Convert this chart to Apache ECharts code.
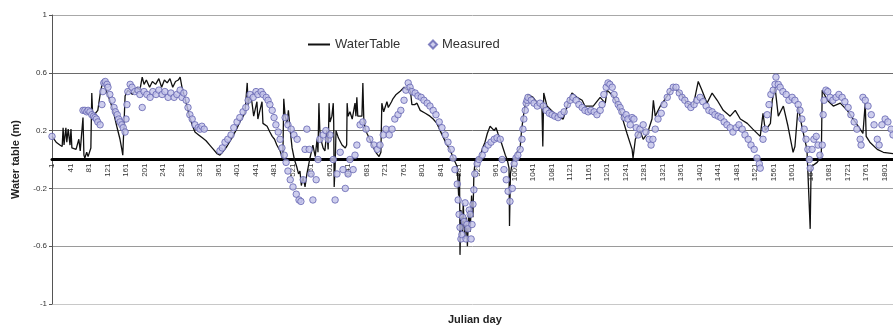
<!DOCTYPE html>
<html><head><meta charset="utf-8">
<script src="https://cdn.jsdelivr.net/npm/echarts@6/dist/echarts.min.js"></script>
<style>html,body{margin:0;padding:0;background:#fff}#c{width:893px;height:329px}</style>
</head><body><div id="c"></div>
<script>
// Julian day, water table (m)
const waterTable1 = [[1,0.16],[10,0.12],[18,0.10],[23,0.09],[25,0.22],[27,0.10],[31,0.22],[33,0.12],[36,0.21],[40,0.10],[42,0.21],[44,0.08],[53,0.07],[57,0.08],[59,0.14],[62,0.06],[66,0.05],[68,0.29],[70,0.03],[72,0.01],[76,0.05],[79,0.02],[85,0.08],[87,0.46],[89,0.30],[95,0.32],[100,0.34],[105,0.45],[111,0.55],[118,0.48],[126,0.41],[133,0.34],[141,0.23],[148,0.14],[152,0.07],[154,0.03],[157,0.02],[159,0.44],[165,0.48],[175,0.45],[185,0.50],[191,0.48],[196,0.57],[200,0.52],[205,0.55],[212,0.50],[218,0.54],[225,0.52],[232,0.56],[238,0.50],[244,0.55],[250,0.53],[256,0.56],[262,0.50],[268,0.54],[274,0.55],[278,0.57],[282,0.50],[286,0.45],[292,0.38],[298,0.30],[304,0.24],[310,0.19],[318,0.17],[326,0.15],[334,0.13],[342,0.10],[350,0.07],[358,0.04],[364,0.03]];
const waterTable2 = [[372,0.06],[379,0.09],[390,0.15],[400,0.21],[407,0.26],[418,0.32],[422,0.33],[423,0.53],[425,0.38],[429,0.44],[433,0.40],[437,0.30],[444,0.40],[446,0.28],[455,0.40],[457,0.25],[466,0.23],[472,0.19],[477,0.16],[482,0.14],[487,0.10],[494,0.06],[500,0.00],[502,0.42],[505,0.30],[509,0.25],[512,0.34],[516,0.20],[520,0.08],[525,0.00],[530,-0.05],[534,-0.10],[537,-0.08],[540,-0.18],[544,-0.12],[548,-0.19],[552,-0.10],[558,0.00],[565,0.10],[570,0.02],[574,0.14],[576,0.05],[578,0.39],[580,0.20],[583,0.13],[587,0.08],[591,0.06],[595,0.20],[598,0.07],[600,0.39],[602,0.26],[606,0.30],[609,0.39],[610,0.25],[611,-0.19],[613,-0.05],[615,0.20],[620,0.15],[628,0.10],[635,0.08],[638,0.10],[639,0.39],[641,0.30],[645,0.33],[650,0.28],[656,0.39],[658,0.30],[660,0.43],[662,0.30],[665,0.30],[671,0.30],[673,0.53],[675,0.28],[678,0.21],[682,0.18],[688,0.14],[693,0.10],[701,0.05],[708,0.02],[712,0.05],[714,0.39],[718,0.33],[721,0.32],[725,0.40],[728,0.36]];
const waterTable3 = [[732,0.35],[735,0.40],[738,0.42],[745,0.45],[753,0.47],[762,0.50],[769,0.48],[775,0.50],[779,0.38],[785,0.38],[790,0.39],[797,0.34],[808,0.32],[818,0.30],[825,0.28],[833,0.25],[840,0.20],[846,0.16],[853,0.11],[861,0.07],[870,0.00],[877,-0.05],[880,-0.25],[882,-0.10],[883,-0.66],[885,-0.35],[888,-0.50],[890,-0.30],[893,-0.55],[896,-0.40],[899,-0.60],[902,-0.35],[905,-0.50],[908,-0.25],[911,-0.40],[913,-0.10],[916,0.00],[920,0.00],[926,0.02],[932,0.08],[937,0.12],[942,0.18],[948,0.23],[952,0.23],[957,0.20],[961,0.22],[965,0.18],[970,0.14],[976,0.08],[981,0.03],[985,0.00],[989,-0.06],[990,-0.46],[992,-0.10],[996,-0.02],[1000,0.00],[1006,0.05],[1013,0.08],[1016,0.20],[1020,0.30],[1024,0.38],[1030,0.45],[1041,0.43],[1050,0.39],[1060,0.37],[1062,0.09],[1064,0.46],[1071,0.37],[1093,0.30]];
const waterTable4 = [[1106,0.28],[1115,0.37],[1125,0.46],[1136,0.43],[1147,0.41],[1153,0.37],[1171,0.37],[1186,0.43],[1197,0.39],[1201,0.48],[1214,0.44],[1229,0.34],[1244,0.18],[1255,0.07],[1257,0.01],[1262,0.14],[1272,0.20],[1279,0.14],[1288,0.18],[1298,0.28],[1301,0.41],[1305,0.30],[1316,0.37],[1331,0.44],[1344,0.50],[1359,0.46],[1374,0.39],[1387,0.37],[1398,0.54],[1406,0.48],[1417,0.39],[1428,0.46],[1439,0.41],[1452,0.34]];
const waterTable5 = [[1467,0.30],[1478,0.34],[1489,0.28],[1504,0.25],[1516,0.21],[1532,0.16],[1538,0.32],[1543,0.20],[1554,0.25],[1558,0.41],[1564,0.50],[1571,0.30],[1582,0.37],[1592,0.23],[1603,0.05],[1607,0.09],[1614,0.37],[1622,0.23],[1633,0.07],[1640,-0.48],[1642,-0.05],[1655,-0.02],[1664,0.02],[1666,0.48],[1677,0.41],[1690,0.37],[1705,0.39],[1720,0.34],[1733,0.28],[1748,0.21],[1754,0.18],[1759,0.39],[1761,0.16],[1769,0.12],[1785,0.07],[1798,0.05],[1819,0.04]];

const measured1 = [[1,0.16],[68,0.34],[72,0.34],[76,0.33],[79,0.34],[83,0.33],[87,0.31],[91,0.30],[94,0.29],[97,0.28],[100,0.26],[105,0.24],[109,0.38],[111,0.47],[113,0.53],[116,0.54],[120,0.52],[122,0.50],[126,0.45],[131,0.41],[135,0.36],[138,0.33],[142,0.31],[145,0.28],[148,0.26],[152,0.24],[155,0.22],[159,0.19],[161,0.28],[163,0.38],[165,0.47],[170,0.52],[174,0.50],[180,0.47],[187,0.48],[191,0.45],[196,0.36],[200,0.47],[206,0.45],[213,0.43],[219,0.47],[226,0.45],[232,0.48],[239,0.45],[245,0.47],[252,0.43],[258,0.46],[265,0.43],[271,0.45],[278,0.48],[282,0.43],[286,0.46],[291,0.41],[295,0.36],[299,0.31],[304,0.28],[310,0.24],[317,0.22],[321,0.21],[325,0.23],[330,0.21]];
const measured2 = [[364,0.06],[369,0.08],[375,0.12],[381,0.14],[388,0.17],[394,0.22],[401,0.26],[407,0.29],[414,0.33],[420,0.36],[425,0.41],[429,0.45],[436,0.43],[442,0.47],[446,0.45],[453,0.47],[457,0.45],[464,0.43],[468,0.41],[472,0.38],[477,0.34],[481,0.29],[485,0.24],[490,0.19],[494,0.14],[498,0.08],[503,0.03],[507,-0.02],[511,-0.08],[516,-0.14],[522,-0.19],[529,-0.24],[535,-0.28],[539,-0.29],[505,0.29],[511,0.24],[518,0.21],[524,0.17],[531,0.14],[544,-0.14],[548,0.07],[552,0.21],[557,0.07],[561,-0.10],[565,-0.28],[572,-0.14],[576,0.00],[580,0.14],[587,0.17],[593,0.20],[598,0.14],[602,0.17],[609,0.00],[613,-0.28],[617,-0.10],[624,0.05],[630,-0.07],[635,-0.20],[641,-0.10],[645,0.00],[652,-0.07],[656,0.03],[660,0.10],[667,0.24],[673,0.26],[680,0.21],[688,0.14],[697,0.10],[704,0.07],[710,0.10],[717,0.17],[723,0.21],[730,0.17]];
const measured3 = [[736,0.21],[742,0.28],[749,0.31],[755,0.34],[762,0.41],[766,0.48],[771,0.53],[775,0.50],[779,0.47],[786,0.46],[792,0.44],[799,0.43],[805,0.41],[812,0.39],[818,0.37],[825,0.34],[831,0.31],[838,0.26],[844,0.22],[851,0.17],[857,0.12],[864,0.07],[868,0.01],[872,-0.07],[877,-0.17],[879,-0.28],[881,-0.38],[883,-0.47],[885,-0.55],[887,-0.52],[889,-0.40],[892,-0.43],[894,-0.30],[896,-0.55],[898,-0.45],[900,-0.48],[903,-0.35],[905,-0.38],[907,-0.55],[909,-0.45],[911,-0.31],[913,-0.21],[915,-0.10],[920,-0.03],[924,0.00],[931,0.03],[937,0.07],[944,0.10],[950,0.12],[957,0.14],[963,0.15],[970,0.14],[974,0.00],[978,-0.07],[983,-0.14],[987,-0.22],[991,-0.29],[996,-0.20],[1000,-0.03],[1004,0.01],[1008,0.03],[1013,0.07],[1017,0.14],[1019,0.21],[1021,0.28],[1024,0.34],[1026,0.39],[1028,0.41],[1030,0.43],[1037,0.41],[1043,0.39],[1050,0.37],[1056,0.39],[1063,0.37],[1069,0.34],[1076,0.32],[1082,0.31],[1088,0.30],[1095,0.29]];
const measured4 = [[1101,0.31],[1108,0.33],[1115,0.38],[1121,0.41],[1127,0.43],[1134,0.41],[1140,0.38],[1147,0.36],[1153,0.34],[1160,0.33],[1166,0.34],[1173,0.33],[1179,0.31],[1186,0.34],[1190,0.38],[1194,0.45],[1199,0.50],[1203,0.53],[1207,0.52],[1212,0.50],[1216,0.45],[1220,0.41],[1225,0.38],[1229,0.36],[1233,0.33],[1238,0.29],[1242,0.31],[1246,0.28],[1251,0.24],[1255,0.29],[1259,0.28],[1264,0.22],[1268,0.17],[1272,0.21],[1279,0.24],[1285,0.19],[1292,0.14],[1296,0.10],[1300,0.14],[1305,0.21],[1311,0.28],[1318,0.32],[1324,0.38],[1331,0.43],[1337,0.47],[1344,0.50],[1350,0.50],[1357,0.46],[1363,0.43],[1369,0.41],[1376,0.38],[1382,0.36],[1389,0.38],[1395,0.41],[1402,0.43],[1408,0.40],[1415,0.37],[1421,0.34],[1428,0.33],[1434,0.31],[1441,0.30],[1447,0.29],[1454,0.26]];
const measured5 = [[1460,0.24],[1467,0.22],[1473,0.19],[1480,0.22],[1486,0.24],[1493,0.21],[1499,0.17],[1506,0.14],[1512,0.10],[1519,0.07],[1525,0.01],[1530,-0.03],[1532,-0.06],[1538,0.14],[1543,0.21],[1547,0.31],[1551,0.38],[1555,0.45],[1560,0.48],[1564,0.52],[1566,0.57],[1571,0.52],[1575,0.50],[1581,0.47],[1588,0.45],[1594,0.41],[1601,0.43],[1607,0.41],[1614,0.38],[1618,0.34],[1622,0.28],[1627,0.21],[1631,0.14],[1635,0.07],[1638,0.00],[1640,-0.06],[1644,0.07],[1648,0.14],[1653,0.16],[1657,0.10],[1661,0.03],[1666,0.10],[1668,0.31],[1670,0.41],[1674,0.48],[1678,0.47],[1683,0.43],[1689,0.41],[1696,0.43],[1702,0.45],[1709,0.43],[1715,0.40],[1722,0.36],[1728,0.31],[1735,0.26],[1741,0.21],[1748,0.14],[1750,0.10],[1754,0.43],[1759,0.41],[1765,0.37],[1772,0.31],[1778,0.24],[1785,0.14],[1789,0.10],[1795,0.24],[1802,0.28],[1808,0.26],[1815,0.21],[1819,0.17]];

const seriesNames = ['WaterTable', 'Measured'];
const yTitle = 'Water table (m)';
const xTitle = 'Julian day';

const waterTable = [].concat(waterTable1, waterTable2, waterTable3, waterTable4, waterTable5);
const measured = [].concat(measured1, measured2, measured3, measured4, measured5);
// axis position 0 corresponds to day 1 (category-style numbering)
const toAxis = arr => arr.map(p => [p[0] - 1, p[1]]);

const GRID_TOP = 15, GRID_BOTTOM = 25, H = 329;
const gridH = H - GRID_TOP - GRID_BOTTOM;

const chart = echarts.init(document.getElementById('c'), null, { renderer: 'canvas' });
chart.setOption({
  animation: false,
  backgroundColor: '#fff',
  textStyle: { fontFamily: 'Liberation Sans, Arial, sans-serif' },
  grid: { left: 52, right: 0, top: GRID_TOP, bottom: GRID_BOTTOM },
  title: {
    text: xTitle, left: 448, top: 314, padding: 0,
    textStyle: { fontSize: 11, fontWeight: 'bold', color: '#222', fontFamily: 'Liberation Sans, Arial, sans-serif' }
  },
  legend: [
    { data: [{ name: seriesNames[0], icon: 'rect' }], left: 308, top: 38, padding: 0, itemWidth: 22, itemHeight: 2,
      textStyle: { fontSize: 13, color: '#333' } },
    { data: [{ name: seriesNames[1], icon: 'diamond' }], left: 428, top: 38, padding: 0, itemWidth: 8, itemHeight: 8,
      textStyle: { fontSize: 13, color: '#333' } }
  ],
  xAxis: {
    type: 'value', min: 0, max: 1818, interval: 40,
    offset: -gridH / 2,
    axisLine: { show: true, onZero: false, lineStyle: { color: '#000', width: 3 } },
    axisTick: { show: false },
    splitLine: { show: false },
    axisLabel: { rotate: 90, fontSize: 8, color: '#333', margin: 4, showMaxLabel: false,
      formatter: v => String(v + 1) }
  },
  yAxis: {
    type: 'value', min: -1, max: 1, interval: 0.4,
    name: yTitle, nameLocation: 'middle', nameGap: 31,
    nameTextStyle: { fontSize: 11, fontWeight: 'bold', color: '#222' },
    axisLine: { show: true, onZero: false, lineStyle: { color: '#555', width: 1 } },
    axisTick: { show: true, length: 3, lineStyle: { color: '#555' } },
    axisLabel: { fontSize: 8, color: '#333', margin: 5, formatter: v => String(+v.toFixed(1)) },
    splitLine: { show: true, lineStyle: { color: ['#c8c8c8', '#9a9a9a', '#a0a0a0', '#6a6a6a', '#6a6a6a', '#a8a8a8'], width: 1 } }
  },
  series: [
    { name: seriesNames[0], type: 'line', data: toAxis(waterTable), symbol: 'none',
      lineStyle: { color: '#111', width: 1.3 }, itemStyle: { color: '#111' }, z: 2 },
    { name: seriesNames[1], type: 'scatter', data: toAxis(measured), symbol: 'circle', symbolSize: 6.5,
      itemStyle: { color: '#c2c2e8', borderColor: '#6464b2', borderWidth: 1 }, z: 3 }
  ]
});
</script>
</body></html>
